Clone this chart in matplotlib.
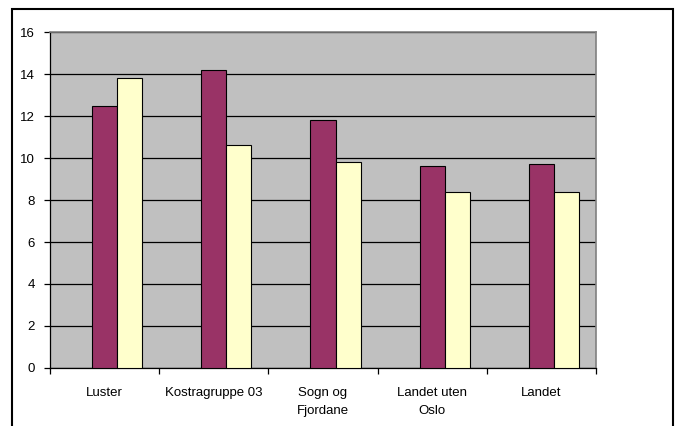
import matplotlib
matplotlib.use("Agg")
import matplotlib.pyplot as plt
import matplotlib.patches as mpatches
import numpy as np

plt.rcParams['font.family'] = ['Liberation Sans', 'DejaVu Sans']

categories = ["Luster", "Kostragruppe 03", "Sogn og\nFjordane", "Landet uten\nOslo", "Landet"]
series_a = [12.5, 14.2, 11.8, 9.6, 9.7]
series_b = [13.8, 10.6, 9.8, 8.4, 8.4]

W, H = 679, 426
fig = plt.figure(figsize=(W / 100, H / 100), dpi=100)
fig.patch.set_facecolor('white')

# plot area in pixels: x 50..596, y 32..368
ax = fig.add_axes([50 / W, 1 - 368 / H, (596 - 50) / W, (368 - 32) / H])
ax.set_facecolor('#C0C0C0')

x = np.arange(len(categories))
bw = 0.229
ax.bar(x, series_a, width=bw, color='#993366', edgecolor='black', linewidth=0.8, zorder=3)
ax.bar(x + bw, series_b, width=bw, color='#FFFFCC', edgecolor='black', linewidth=0.8, zorder=3)

ax.set_xlim(-0.5, len(categories) - 0.5)
ax.set_ylim(0, 16)
ax.set_yticks(range(0, 17, 2))
ax.yaxis.grid(True, color='black', linewidth=0.9, zorder=1)
ax.set_axisbelow(True)

ax.set_xticks(np.arange(-0.5, len(categories), 1))
ax.set_xticklabels([])
ax.set_xticks(x, minor=True)
ax.set_xticklabels(categories, minor=True, fontsize=9.5, linespacing=1.6)
ax.tick_params(axis='x', which='minor', length=0, pad=14)
ax.tick_params(axis='x', which='major', length=4, width=0.9, direction='out')
ax.tick_params(axis='y', length=4, width=0.9, labelsize=9.5, pad=7)

for s in ['top', 'right']:
    ax.spines[s].set_color('#808080')
    ax.spines[s].set_linewidth(1.2)
for s in ['left', 'bottom']:
    ax.spines[s].set_color('black')
    ax.spines[s].set_linewidth(0.9)

# outer chart border
border = mpatches.Rectangle((12 / W, -0.05), (673 - 12) / W, (1 - 9 / H) + 0.05,
                            transform=fig.transFigure, fill=False,
                            edgecolor='black', linewidth=1.5)
fig.patches.append(border)

fig.savefig('out.png', dpi=100)
